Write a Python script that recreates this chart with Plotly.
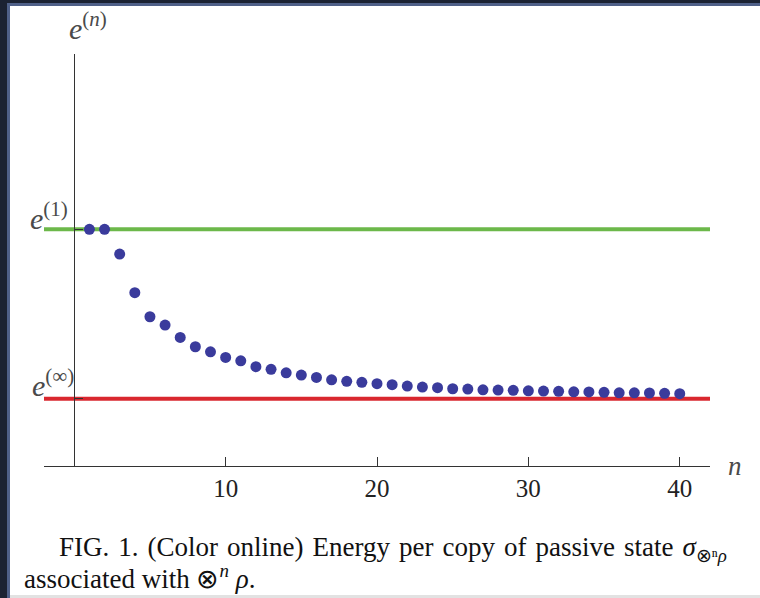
import plotly.graph_objects as go

# ---- data (arbitrary energy units: e(inf)=0, e(1)=1) ----
n_values = list(range(1, 41))
e_n = [1.000, 1.000, 0.854, 0.626, 0.484, 0.435, 0.362, 0.307, 0.277, 0.244,
       0.224, 0.189, 0.174, 0.153, 0.140, 0.126, 0.112, 0.103, 0.097, 0.089,
       0.083, 0.075, 0.069, 0.065, 0.059, 0.057, 0.053, 0.051, 0.050, 0.047,
       0.045, 0.044, 0.041, 0.040, 0.038, 0.035, 0.035, 0.034, 0.032, 0.030]
e_one = 1.0
e_inf = 0.0
x_tick_vals = [10, 20, 30, 40]
x_tick_text = ["10", "20", "30", "40"]

x_range = [-2.0, 42.0]
y_range = [-0.397, 2.035]

W, H = 760, 598
ML, MR, MT, MB = 44, 50, 54, 132
PW, PH = W - ML - MR, H - MT - MB


def px_x(p):
    return (p - ML) / PW


def px_y(p):
    return (H - MB - p) / PH


fig = go.Figure()

fig.add_trace(go.Scatter(x=x_range, y=[e_one, e_one], mode="lines",
                         line=dict(color="#6cb84a", width=4),
                         hoverinfo="skip", showlegend=False))
fig.add_trace(go.Scatter(x=x_range, y=[e_inf, e_inf], mode="lines",
                         line=dict(color="#d9272f", width=4),
                         hoverinfo="skip", showlegend=False))
fig.add_trace(go.Scatter(x=n_values, y=e_n, mode="markers",
                         marker=dict(color="#3a3b9c", size=11, line=dict(width=0)),
                         showlegend=False))

serif = "Liberation Serif, Times New Roman, serif"

fig.update_layout(
    width=W, height=H,
    margin=dict(l=ML, r=MR, t=MT, b=MB),
    paper_bgcolor="white", plot_bgcolor="white",
    xaxis=dict(range=x_range, showgrid=False, zeroline=False,
               showline=True, linecolor="#333333", linewidth=1,
               ticks="inside", ticklen=9, tickcolor="#333333", tickwidth=1,
               tickvals=x_tick_vals, ticktext=x_tick_text,
               ticklabelstandoff=0,
               tickfont=dict(family=serif, size=25, color="#222222")),
    yaxis=dict(range=y_range, showgrid=False, zeroline=False,
               anchor="free",
               position=(0 - x_range[0]) / (x_range[1] - x_range[0]),
               showline=True, linecolor="#333333", linewidth=1,
               ticks="inside", ticklen=8, tickcolor="#333333", tickwidth=1,
               tickvals=[e_inf, e_one], showticklabels=False),
)

lab_font = dict(family=serif, size=30, color="#4a4a4a")
annos = [
    dict(text="<i>e</i><sup>(<i>n</i>)</sup>", x=px_x(88), y=px_y(26)),
    dict(text="<i>e</i><sup>(1)</sup>", x=px_x(70), y=px_y(237), xanchor="right", yanchor="bottom"),
    dict(text="<i>e</i><sup>(∞)</sup>", x=px_x(76), y=px_y(404), xanchor="right", yanchor="bottom"),
]
for a in annos:
    fig.add_annotation(xref="paper", yref="paper", showarrow=False,
                       font=lab_font, xanchor=a.get("xanchor", "center"),
                       yanchor=a.get("yanchor", "middle"),
                       text=a["text"], x=a["x"], y=a["y"])
fig.add_annotation(xref="paper", yref="paper", showarrow=False,
                   font=dict(family=serif, size=27, color="#4a4a4a"),
                   xanchor="center", yanchor="middle",
                   text="<i>n</i>", x=px_x(735), y=px_y(466))

cap_font = dict(family=serif, size=27, color="#111111")
hs = " \u200a"
line1_words = ["FIG.", "1.", "(Color", "online)", "Energy", "per", "copy", "of",
               "passive", "state", "<i>σ</i><sub>⊗ⁿ<i>ρ</i></sub>"]
fig.add_annotation(xref="paper", yref="paper", showarrow=False, font=cap_font,
                   xanchor="left", yanchor="middle", x=px_x(57), y=px_y(549),
                   text=hs.join(line1_words))
fig.add_annotation(xref="paper", yref="paper", showarrow=False, font=cap_font,
                   xanchor="left", yanchor="middle", x=px_x(22), y=px_y(577),
                   text="associated with ⊗<sup><i>n</i></sup> <i>ρ</i>.")

# page frame
frame = [
    (0, 0, 7, H, "#1b2232"),
    (7, 0, 10, H, "#4f6088"),
    (0, 0, W, 3, "#1b2232"),
    (7, 3, W, 6, "#4f6088"),
    (10, 595, W, H, "#e2e2e2"),
]
for x0, y0, x1, y1, c in frame:
    fig.add_shape(type="rect", xref="paper", yref="paper",
                  x0=px_x(x0), x1=px_x(x1), y0=px_y(y0), y1=px_y(y1),
                  fillcolor=c, line=dict(width=0), layer="above")

fig.write_html("out.html")
